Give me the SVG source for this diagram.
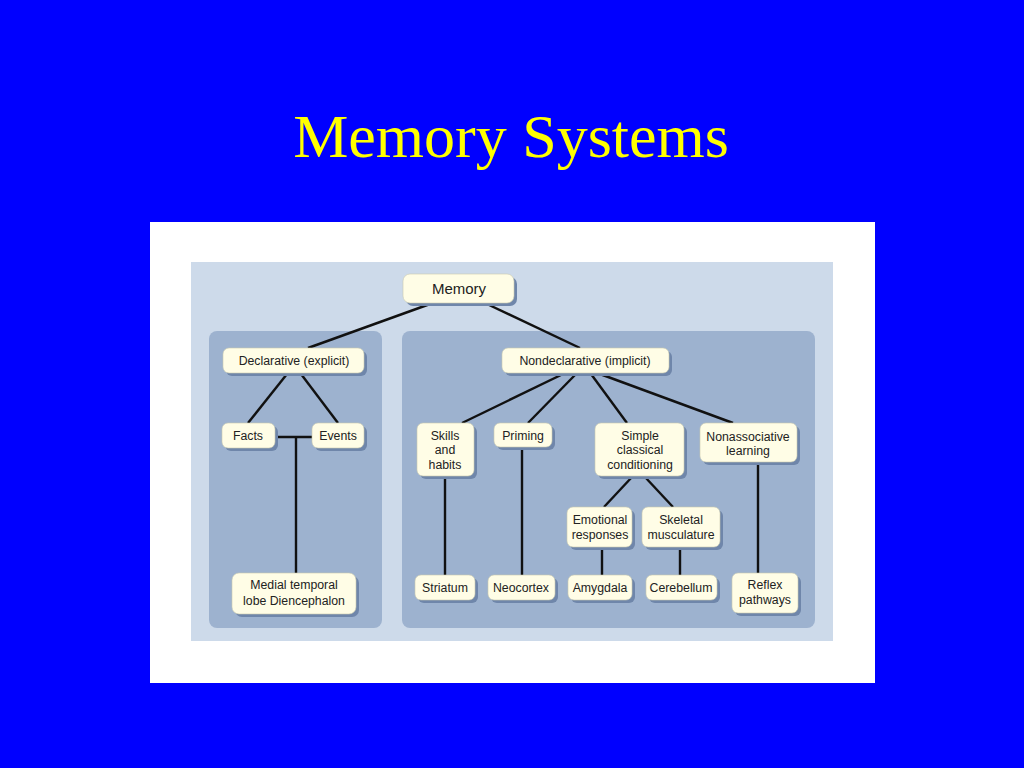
<svg xmlns="http://www.w3.org/2000/svg" width="1024" height="768" viewBox="0 0 1024 768">
<style>
.title{font-family:"Liberation Serif","Times New Roman",serif;font-size:62px;fill:#ffff00}
.node rect.box{fill:#fffde6;stroke:#c9c9b0;stroke-width:0.6}
.node rect.sh{fill:#6f86aa}
.node text{font-family:"Liberation Sans",Arial,sans-serif;font-size:12.3px;fill:#222;text-anchor:middle}
#connectors line{stroke:#111;stroke-width:2.4}
</style>
<rect width="1024" height="768" fill="#0000ff"/>
<text class="title" x="511" y="157" text-anchor="middle">Memory Systems</text>
<rect x="150" y="222" width="725" height="461" fill="#ffffff"/>
<rect x="191" y="262" width="642" height="379" fill="#cddaea"/>
<rect x="209" y="331" width="173" height="297" rx="8" fill="#9db2cf"/>
<rect x="402" y="331" width="413" height="297" rx="8" fill="#9db2cf"/>

<g id="connectors">
<line x1="430" y1="304" x2="308" y2="348"/>
<line x1="487" y1="304" x2="580" y2="348"/>
<line x1="287" y1="374" x2="248" y2="423"/>
<line x1="301" y1="374" x2="338" y2="423"/>
<line x1="275" y1="437" x2="312" y2="437"/>
<line x1="296" y1="437" x2="296" y2="573"/>
<line x1="563" y1="374" x2="462" y2="423"/>
<line x1="576" y1="374" x2="528" y2="423"/>
<line x1="591" y1="374" x2="627" y2="423"/>
<line x1="600" y1="374" x2="733" y2="423"/>
<line x1="445" y1="476" x2="445" y2="575"/>
<line x1="522" y1="447" x2="522" y2="575"/>
<line x1="632" y1="477" x2="604" y2="507"/>
<line x1="645" y1="477" x2="673" y2="507"/>
<line x1="602" y1="547" x2="602" y2="575"/>
<line x1="680" y1="547" x2="680" y2="575"/>
<line x1="758" y1="462" x2="758" y2="573"/>
</g>

<g id="memory" class="node">
<rect class="sh" x="406" y="277" width="111" height="29" rx="7"/>
<rect class="box" x="403" y="274" width="111" height="29" rx="7"/>
<text x="459" y="294" style="font-size:15px">Memory</text>
</g>
<g id="declarative" class="node">
<rect class="sh" x="226" y="351" width="141" height="25" rx="6"/>
<rect class="box" x="223" y="348" width="141" height="25" rx="6"/>
<text x="294" y="365">Declarative (explicit)</text>
</g>
<g id="facts" class="node">
<rect class="sh" x="225" y="426" width="53" height="25" rx="6"/>
<rect class="box" x="222" y="423" width="53" height="25" rx="6"/>
<text x="248" y="440">Facts</text>
</g>
<g id="events" class="node">
<rect class="sh" x="315" y="426" width="52" height="25" rx="6"/>
<rect class="box" x="312" y="423" width="52" height="25" rx="6"/>
<text x="338" y="440">Events</text>
</g>
<g id="medial" class="node">
<rect class="sh" x="235" y="576" width="124" height="41" rx="7"/>
<rect class="box" x="232" y="573" width="124" height="41" rx="7"/>
<text x="294" y="589">Medial temporal</text>
<text x="294" y="605">lobe Diencephalon</text>
</g>

<g id="nondeclarative" class="node">
<rect class="sh" x="505" y="351" width="167" height="25" rx="6"/>
<rect class="box" x="502" y="348" width="167" height="25" rx="6"/>
<text x="585" y="365">Nondeclarative (implicit)</text>
</g>
<g id="skills" class="node">
<rect class="sh" x="420" y="426" width="57" height="53" rx="6"/>
<rect class="box" x="417" y="423" width="57" height="53" rx="6"/>
<text x="445" y="439.5">Skills</text>
<text x="445" y="454">and</text>
<text x="445" y="468.5">habits</text>
</g>
<g id="priming" class="node">
<rect class="sh" x="497" y="426" width="58" height="24" rx="6"/>
<rect class="box" x="494" y="423" width="58" height="24" rx="6"/>
<text x="523" y="440">Priming</text>
</g>
<g id="simple" class="node">
<rect class="sh" x="598" y="426" width="89" height="53" rx="6"/>
<rect class="box" x="595" y="423" width="89" height="53" rx="6"/>
<text x="640" y="439.5">Simple</text>
<text x="640" y="454">classical</text>
<text x="640" y="468.5">conditioning</text>
</g>
<g id="nonassociative" class="node">
<rect class="sh" x="703" y="426" width="97" height="39" rx="6"/>
<rect class="box" x="700" y="423" width="97" height="39" rx="6"/>
<text x="748" y="440.5">Nonassociative</text>
<text x="748" y="455">learning</text>
</g>
<g id="emotional" class="node">
<rect class="sh" x="570" y="510" width="65" height="40" rx="6"/>
<rect class="box" x="567" y="507" width="65" height="40" rx="6"/>
<text x="600" y="524">Emotional</text>
<text x="600" y="538.5">responses</text>
</g>
<g id="skeletal" class="node">
<rect class="sh" x="645" y="510" width="78" height="40" rx="6"/>
<rect class="box" x="642" y="507" width="78" height="40" rx="6"/>
<text x="681" y="524">Skeletal</text>
<text x="681" y="538.5">musculature</text>
</g>
<g id="striatum" class="node">
<rect class="sh" x="418" y="578" width="60" height="25" rx="6"/>
<rect class="box" x="415" y="575" width="60" height="25" rx="6"/>
<text x="445" y="592">Striatum</text>
</g>
<g id="neocortex" class="node">
<rect class="sh" x="491" y="578" width="67" height="25" rx="6"/>
<rect class="box" x="488" y="575" width="67" height="25" rx="6"/>
<text x="521" y="592">Neocortex</text>
</g>
<g id="amygdala" class="node">
<rect class="sh" x="571" y="578" width="64" height="25" rx="6"/>
<rect class="box" x="568" y="575" width="64" height="25" rx="6"/>
<text x="600" y="592">Amygdala</text>
</g>
<g id="cerebellum" class="node">
<rect class="sh" x="649" y="578" width="71" height="25" rx="6"/>
<rect class="box" x="646" y="575" width="71" height="25" rx="6"/>
<text x="681" y="592">Cerebellum</text>
</g>
<g id="reflex" class="node">
<rect class="sh" x="735" y="576" width="66" height="40" rx="6"/>
<rect class="box" x="732" y="573" width="66" height="40" rx="6"/>
<text x="765" y="589">Reflex</text>
<text x="765" y="603.5">pathways</text>
</g>
</svg>
